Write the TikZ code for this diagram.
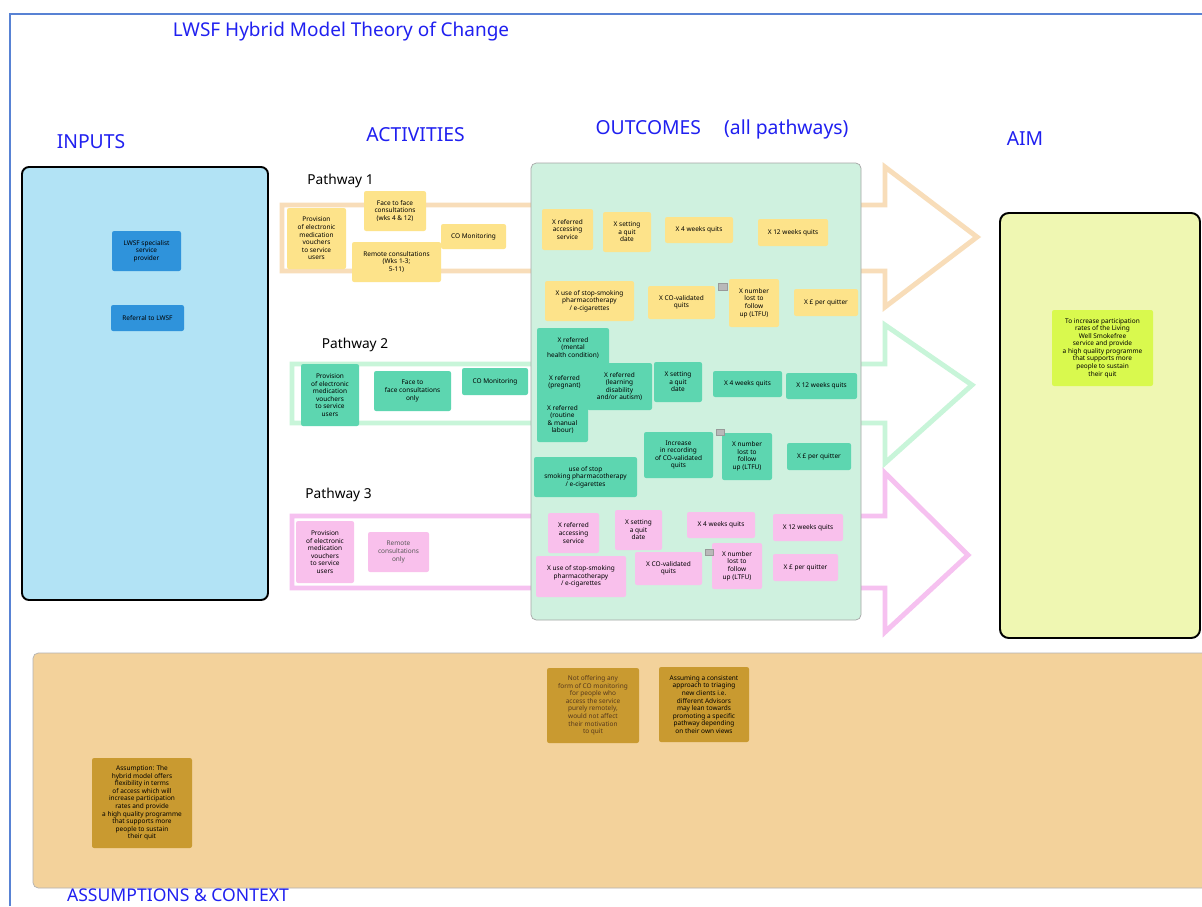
\documentclass[tikz,border=0pt]{standalone}
\usepackage{fontspec}
\setmainfont{Noto Sans}
\definecolor{headblue}{RGB}{32,32,240}
\definecolor{framebl}{RGB}{88,130,212}
\definecolor{inbg}{RGB}{178,227,245}
\definecolor{inbox}{RGB}{47,147,219}
\definecolor{outbg}{RGB}{207,241,223}
\definecolor{aimbg}{RGB}{239,247,178}
\definecolor{aimbox}{RGB}{217,249,78}
\definecolor{bandbg}{RGB}{243,210,155}
\definecolor{gold}{RGB}{201,154,48}
\definecolor{noteyel}{RGB}{253,227,138}
\definecolor{noteteal}{RGB}{93,214,176}
\definecolor{notepink}{RGB}{249,192,236}
\definecolor{laneone}{RGB}{248,221,185}
\definecolor{lanetwo}{RGB}{200,245,217}
\definecolor{lanethree}{RGB}{246,193,240}
\tikzset{
note/.style={rectangle, rounded corners=1.2pt, align=center, inner sep=0.5pt, text=black, font=\fontsize{3.7}{4.3}\selectfont},
sz/.style 2 args={minimum width=#1*0.02cm, minimum height=#2*0.02cm},
yel/.style={note, fill=noteyel},
tea/.style={note, fill=noteteal},
pnk/.style={note, fill=notepink},
gld/.style={note, fill=gold},
heading/.style={text=headblue, font=\fontsize{11}{13}\selectfont},
pathlabel/.style={font=\fontsize{7.8}{9}\selectfont},
lane/.style={line width=2.8pt, line join=miter},
cmt/.style={fill=gray!55, draw=gray!80, line width=0.2pt}}

\begin{document}
\begin{tikzpicture}[x=0.02cm, y=-0.02cm]
    \useasboundingbox (0,0) rectangle (1202,906);
    \fill[white] (0,0) rectangle (1202,906);
    \draw[framebl, line width=0.8pt] (10,906) -- (10,14) -- (1202,14);

    \node[text=headblue, font=\fontsize{10.8}{12}\selectfont] (title) at (341,32) {LWSF Hybrid Model Theory of Change};
    \node[heading] (inputs) at (91,142) {INPUTS};
    \node[heading] (activities) at (415.5,135) {ACTIVITIES};
    \node[heading] (outcomes) at (722,129) {OUTCOMES\hspace{1.2em}(all pathways)};
    \node[heading] (aim) at (1025,139) {AIM};

    % pathway arrows
    \draw[lane, draw=laneone] (885,205) -- (282,205) -- (282,271) -- (885,271) -- (885,307) -- (977,237) -- (885,167) -- cycle;
    \draw[lane, draw=lanetwo] (885,364) -- (292,364) -- (292,423) -- (885,423) -- (885,463) -- (972,385) -- (885,325) -- cycle;
    \draw[lane, draw=lanethree] (885,516) -- (292,516) -- (292,588) -- (885,588) -- (885,632) -- (968,555) -- (885,473) -- cycle;

    % big boxes
    \draw[black, line width=1.1pt, fill=inbg, rounded corners=4pt] (22,167) rectangle (268,600);
    \draw[gray!70, line width=0.4pt, fill=outbg, rounded corners=3pt] (531,163) rectangle (861,620);
    \draw[black, line width=1.1pt, fill=aimbg, rounded corners=5pt] (1000,213) rectangle (1200,638);
    \draw[gray!60, line width=0.4pt, fill=bandbg, rounded corners=3pt] (33,653) rectangle (1230,888);

    % inputs
    \node[note, fill=inbox, sz={69}{40}] (provider) at (146.5,251) {LWSF specialist\\service\\provider};
    \node[note, fill=inbox, sz={73}{26}] (referral) at (147.5,318) {Referral to LWSF};

    % pathway 1
    \node[pathlabel] (path1) at (340.5,181) {Pathway 1};
    \node[yel, sz={59}{61}] (vouchA) at (316.5,238.5) {Provision\\of electronic\\medication\\vouchers\\to service\\users};
    \node[yel, sz={62}{40}] (faceA) at (395,211) {Face to face\\consultations\\(wks 4 \& 12)};
    \node[yel, sz={89}{40}] (remoteA) at (396.5,262) {Remote consultations\\(Wks 1-3;\\5-11)};
    \node[yel, sz={65}{25}] (coA) at (473.5,236.5) {CO Monitoring};
    \node[yel, sz={51}{41}] (accessA) at (567.5,229.5) {X referred\\accessing\\service};
    \node[yel, sz={48}{40}] (dateA) at (627,232) {X setting\\a quit\\date};
    \node[yel, sz={68}{26}] (fourA) at (699,230) {X 4 weeks quits};
    \node[yel, sz={70}{27}] (twelveA) at (793,232.5) {X 12 weeks quits};
    \node[yel, sz={89}{40}] (pharmA) at (589.5,301) {X use of stop-smoking\\pharmacotherapy\\/ e-cigarettes};
    \node[yel, sz={67}{33}] (covalA) at (681.5,302.5) {X CO-validated\\quits};
    \node[yel, sz={50}{48}] (ltfuA) at (754,303) {X number\\lost to\\follow\\up (LTFU)};
    \node[yel, sz={64}{27}] (costA) at (826,302.5) {X £ per quitter};
    \draw[cmt] (718,283) rectangle (727,290);

    % pathway 2
    \node[pathlabel] (path2) at (355,345) {Pathway 2};
    \node[tea, sz={58}{62}] (vouchB) at (330,395) {Provision\\of electronic\\medication\\vouchers\\to service\\users};
    \node[tea, sz={77}{40}] (faceB) at (412.5,391) {Face to\\face consultations\\only};
    \node[tea, sz={66}{27}] (coB) at (495,381.5) {CO Monitoring};
    \node[tea, sz={55}{35}] (pregB) at (564.5,382.5) {X referred\\(pregnant)};
    \node[tea, sz={51}{45}] (manualB) at (562.5,419.5) {X referred\\(routine\\\& manual\\labour)};
    \node[tea, sz={65}{47}] (learnB) at (619.5,386.5) {X referred\\(learning\\disability\\and/or autism)};
    \node[tea, sz={72}{40}] (mentalB) at (573,348) {X referred\\(mental\\health condition)};
    \node[tea, sz={48}{40}] (dateB) at (678,382) {X setting\\a quit\\date};
    \node[tea, sz={69}{26}] (fourB) at (747.5,384) {X 4 weeks quits};
    \node[tea, sz={71}{26}] (twelveB) at (821.5,386) {X 12 weeks quits};
    \node[tea, sz={69}{46}] (recordB) at (678.5,455) {Increase\\in recording\\of CO-validated\\quits};
    \node[tea, sz={50}{47}] (ltfuB) at (747,456.5) {X number\\lost to\\follow\\up (LTFU)};
    \node[tea, sz={64}{27}] (costB) at (819,456.5) {X £ per quitter};
    \node[tea, sz={103}{40}] (pharmB) at (585.5,477) {use of stop\\smoking pharmacotherapy\\/ e-cigarettes};
    \draw[cmt] (716,429) rectangle (724,435);

    % pathway 3
    \node[pathlabel] (path3) at (338.5,495) {Pathway 3};
    \node[pnk, sz={58}{62}] (vouchC) at (325,552) {Provision\\of electronic\\medication\\vouchers\\to service\\users};
    \node[pnk, sz={61}{40}, text=black!65] (remoteC) at (398.5,552) {Remote\\consultations\\only};
    \node[pnk, sz={51}{40}] (accessC) at (573.5,533) {X referred\\accessing\\service};
    \node[pnk, sz={47}{40}] (dateC) at (638.5,530) {X setting\\a quit\\date};
    \node[pnk, sz={68}{26}] (fourC) at (721,525) {X 4 weeks quits};
    \node[pnk, sz={70}{27}] (twelveC) at (808,527.5) {X 12 weeks quits};
    \node[pnk, sz={90}{41}] (pharmC) at (581,576.5) {X use of stop-smoking\\pharmacotherapy\\/ e-cigarettes};
    \node[pnk, sz={67}{33}] (covalC) at (668.5,568.5) {X CO-validated\\quits};
    \node[pnk, sz={50}{46}] (ltfuC) at (737,566) {X number\\lost to\\follow\\up (LTFU)};
    \node[pnk, sz={65}{27}] (costC) at (805.5,567.5) {X £ per quitter};
    \draw[cmt] (705,549) rectangle (713,555);

    % aim
    \node[note, fill=aimbox, sz={101}{76}] (goal) at (1102.5,348) {To increase participation\\rates of the Living\\Well Smokefree\\service and provide\\a high quality programme\\that supports more\\people to sustain\\their quit};

    % assumptions
    \node[gld, sz={92}{75}, text=black!55!brown] (remoteCO) at (593,705.5) {Not offering any\\form of CO monitoring\\for people who\\access the service\\purely remotely,\\would not affect\\their motivation\\to quit};
    \node[gld, sz={90}{75}] (triage) at (704,704.5) {Assuming a consistent\\approach to triaging\\new clients i.e.\\different Advisors\\may lean towards\\promoting a specific\\pathway depending\\on their own views};
    \node[gld, sz={100}{90}] (hybrid) at (142,803) {Assumption: The\\hybrid model offers\\flexibility in terms\\of access which will\\increase participation\\rates and provide\\a high quality programme\\that supports more\\people to sustain\\their quit};
    \node[heading, anchor=base, inner sep=0pt, font=\fontsize{10}{12}\selectfont] (context) at (178,901) {ASSUMPTIONS \& CONTEXT};
\end{tikzpicture}
\end{document}
